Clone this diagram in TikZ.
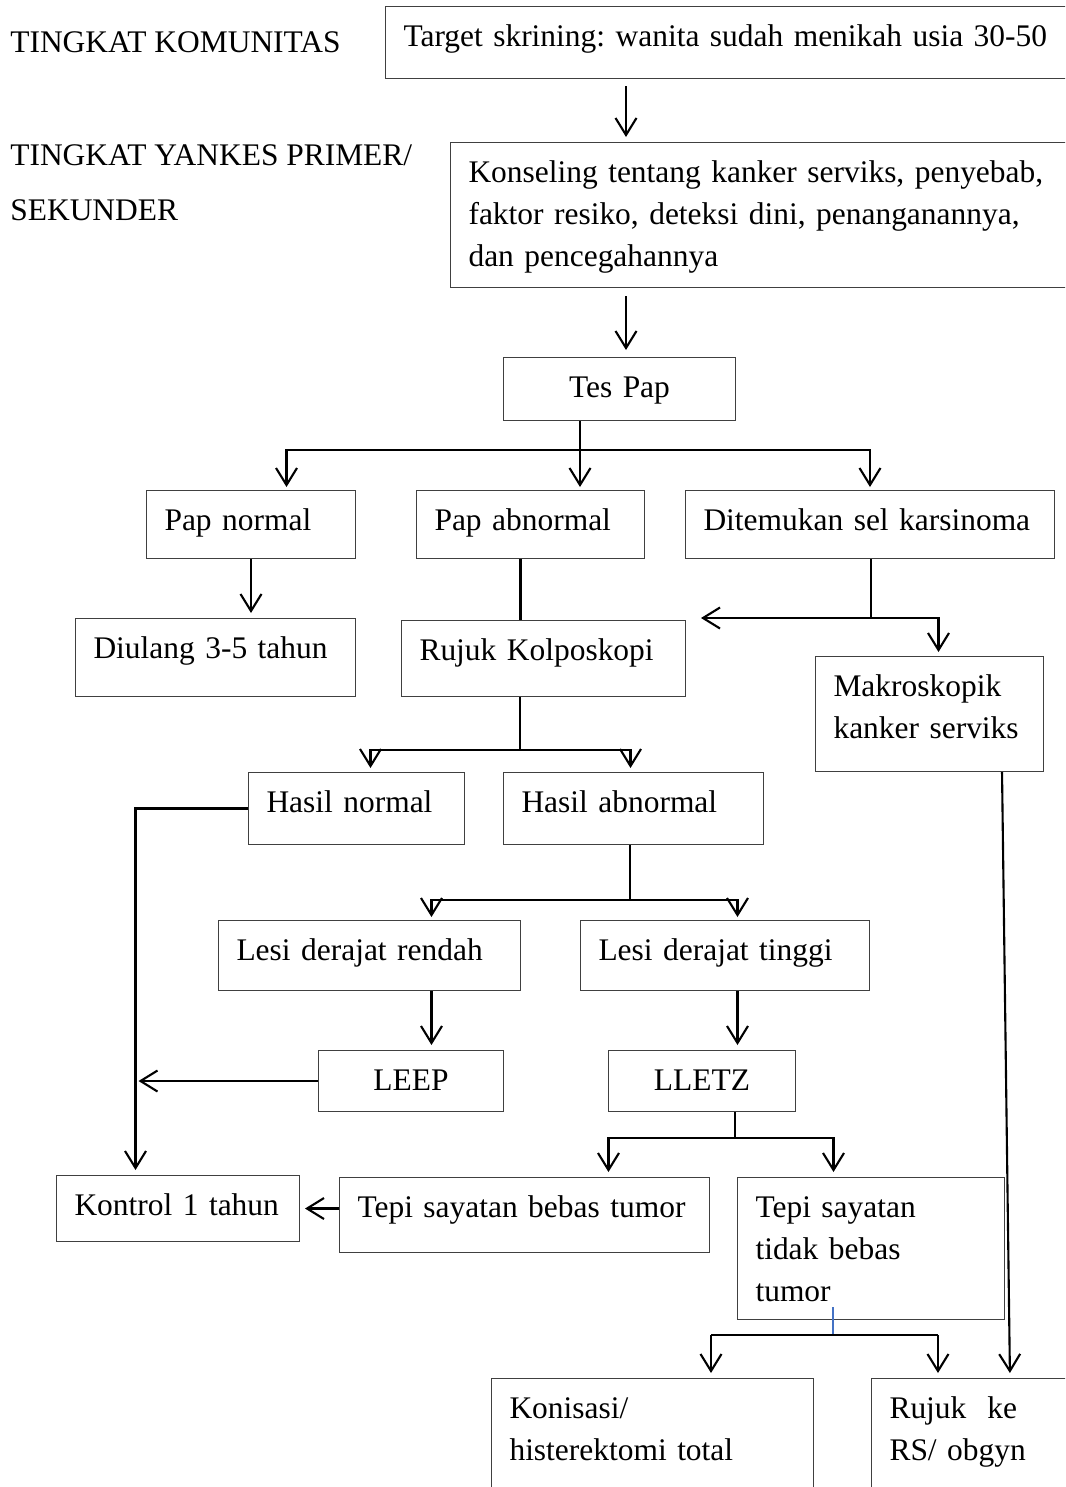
\documentclass[tikz,border=0pt]{standalone}
\usepackage{fontspec}
\setmainfont{Liberation Serif}
\usetikzlibrary{arrows.meta}
\frenchspacing

\begin{document}
\begin{tikzpicture}[x=0.02cm,y=-0.02cm,
  font=\fontsize{17.9}{23.9}\selectfont,
  box/.style={draw=black!75,line width=0.6pt,anchor=north west,inner xsep=0.36cm,inner ysep=0pt,text height=0.79cm,align=left},
  level/.style={anchor=base west,inner sep=0pt},
  link/.style={line width=1.2pt},
  tick/.style={draw={rgb,255:red,68;green,114;blue,196},line width=0.7pt},
  arr/.style={line width=1.2pt,-{Straight Barb[length=0.34cm,width=0.42cm]}}]
 \useasboundingbox (0,0) rectangle (1065,1487);
 \begin{scope}
 \clip (0,0) rectangle (1065,1487);
 % levels
 \node (komunitas) [level] at (10,52.5) {TINGKAT KOMUNITAS};
 \node (yankes) [level] at (10,165.5) {TINGKAT YANKES PRIMER/};
 \node (sekunder) [level] at (10,220.5) {SEKUNDER};
 % boxes
 \node (target) [box,text width=13.58cm,text depth=0.65cm] at (385,6) {Target skrining: wanita sudah menikah usia 30-50};
 \node (konseling) [box,text width=12.28cm,text depth=2.11cm] at (450,142) {Konseling tentang kanker serviks, penyebab,\\ faktor resiko, deteksi dini, penanganannya,\\ dan pencegahannya};
 \node (tespap) [box,align=center,text width=3.92cm,text depth=0.47cm] at (503,357) {Tes Pap};
 \node (papnormal) [box,text width=3.46cm,text depth=0.57cm] at (146,490) {Pap normal};
 \node (papabn) [box,text width=3.84cm,text depth=0.57cm] at (416,490) {Pap abnormal};
 \node (sel) [box,text width=6.66cm,text depth=0.57cm] at (685,490) {Ditemukan sel karsinoma};
 \node (diulang) [box,text width=4.88cm,text depth=0.77cm] at (75,618) {Diulang 3-5 tahun};
 \node (rujukk) [box,text width=4.96cm,text depth=0.73cm] at (401,620) {Rujuk Kolposkopi};
 \node (makro) [box,text width=3.84cm,text depth=1.51cm] at (815,656) {Makroskopik\\ kanker serviks};
 \node (hasilnormal) [box,text width=3.6cm,text depth=0.65cm] at (248,772) {Hasil normal};
 \node (hasilabn) [box,text width=4.48cm,text depth=0.65cm] at (503,772) {Hasil abnormal};
 \node (lesirendah) [box,text width=5.32cm,text depth=0.61cm] at (218,920) {Lesi derajat rendah};
 \node (lesitinggi) [box,text width=5.06cm,text depth=0.61cm] at (580,920) {Lesi derajat tinggi};
 \node (leep) [box,align=center,text width=2.98cm,text depth=0.43cm] at (318,1050) {LEEP};
 \node (lletz) [box,align=center,text width=3.02cm,text depth=0.43cm] at (608,1050) {LLETZ};
 \node (kontrol) [box,text width=4.14cm,text depth=0.53cm] at (56,1175) {Kontrol 1 tahun};
 \node (tepibebas) [box,text width=6.68cm,text depth=0.71cm] at (339,1177) {Tepi sayatan bebas tumor};
 \node (tepitidak) [box,text width=4.62cm,text depth=2.05cm] at (737,1177) {Tepi sayatan\\ tidak bebas\\ tumor};
 \node (konisasi) [box,text width=5.72cm,text depth=2.09cm] at (491,1378) {Konisasi/\\ histerektomi total};
 \node (rujukrs) [box,text width=3.88cm,text depth=2.09cm] at (871,1378) {Rujuk\ \ ke\\ RS/ obgyn};
 % connectors
 \coordinate (spine) at (626,0);
 \draw[arr,shorten <=0.14cm,shorten >=0.1cm] (target.south -| spine) -- (konseling.north -| spine);
 \draw[arr,shorten <=0.16cm,shorten >=0.14cm] (konseling.south -| spine) -- (tespap.north -| spine);
 \coordinate (fork1) at (580,450);
 \draw[link] (tespap.south -| fork1) -- (fork1);
 \draw[arr,shorten >=0.06cm] (fork1) -- (papabn.north -| fork1);
 \draw[arr,shorten >=0.06cm] (fork1) -| ([xshift=0.71cm]papnormal.north);
 \draw[arr,shorten >=0.06cm] (fork1) -| (sel.north);
 \draw[arr,shorten >=0.1cm] (papnormal.south) -- (papnormal.south |- diulang.north);
 \draw[link] ([xshift=-0.2cm]papabn.south) -- ([xshift=-0.2cm]papabn.south |- rujukk.north);
 \coordinate (fork2) at (871,618);
 \draw[link] (sel.south -| fork2) -- (fork2);
 \draw[arr,shorten >=0.3cm] (fork2) -- (fork2 -| rujukk.east);
 \draw[arr,shorten >=0.08cm] (fork2) -| ([xshift=0.18cm]makro.north);
 \coordinate (fork3) at (520,750);
 \draw[link] (rujukk.south -| fork3) -- (fork3);
 \draw[arr,shorten >=0.08cm] (fork3) -| ([xshift=0.28cm]hasilnormal.north);
 \draw[arr,shorten >=0.08cm] (fork3) -| ([xshift=-0.06cm]hasilabn.north);
 \coordinate (ctrl) at ([xshift=-0.85cm]kontrol.north);
 \draw[arr,shorten >=0.1cm] (hasilnormal.west) -| (ctrl);
 \coordinate (fork4) at (630,900);
 \draw[link] (hasilabn.south -| fork4) -- (fork4);
 \draw[arr,shorten >=0.06cm] (fork4) -| ([xshift=1.24cm]lesirendah.north);
 \draw[arr,shorten >=0.06cm] (fork4) -| ([xshift=0.25cm]lesitinggi.north);
 \draw[arr,shorten >=0.1cm] ([xshift=1.24cm]lesirendah.south) -- ([xshift=1.24cm]lesirendah.south |- leep.north);
 \draw[arr,shorten >=0.1cm] ([xshift=0.25cm]lesitinggi.south) -- ([xshift=0.25cm]lesitinggi.south |- lletz.north);
 \draw[arr,shorten >=0.06cm] (leep.west) -- (leep.west -| ctrl);
 \coordinate (fork5) at (735,1138);
 \draw[link] (lletz.south -| fork5) -- (fork5);
 \draw[arr,shorten >=0.1cm] (fork5) -| ([xshift=1.68cm]tepibebas.north);
 \draw[arr,shorten >=0.1cm] (fork5) -| ([xshift=-0.75cm]tepitidak.north);
 \draw[arr,shorten >=0.1cm] (tepibebas.west |- kontrol.east) -- (kontrol.east);
 \coordinate (fork6) at (833,1335);
 \draw[tick] ([yshift=0.26cm]fork6 |- tepitidak.south) -- (fork6);
 \draw[link] ([xshift=-2.06cm]konisasi.north east |- fork6) -- ([xshift=1.34cm]rujukrs.north west |- fork6);
 \draw[arr,shorten >=0.1cm] ([xshift=-2.06cm]konisasi.north east |- fork6) -- ([xshift=-2.06cm]konisasi.north east);
 \draw[arr,shorten >=0.1cm] ([xshift=1.34cm]rujukrs.north west |- fork6) -- ([xshift=1.34cm]rujukrs.north west);
 \draw[arr,shorten >=0.1cm] ([xshift=-0.84cm]makro.south east) -- ([xshift=2.78cm]rujukrs.north west);
 \end{scope}
\end{tikzpicture}
\end{document}
